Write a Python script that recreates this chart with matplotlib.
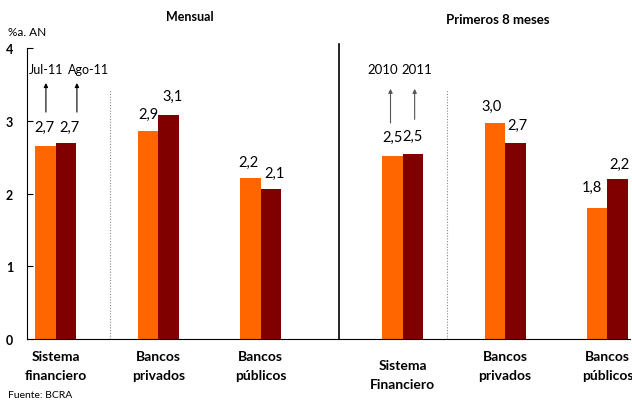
import matplotlib
matplotlib.use("Agg")
import matplotlib.pyplot as plt

categories = ["Sistema\nfinanciero", "Bancos\nprivados", "Bancos\npúblicos",
              "Sistema\nFinanciero", "Bancos\nprivados", "Bancos\npúblicos"]
serie_a = [2.65, 2.86, 2.21, 2.52, 2.97, 1.80]   # Jul-11 / 2010
serie_b = [2.69, 3.08, 2.06, 2.54, 2.69, 2.20]   # Ago-11 / 2011
labels_a = ["2,7", "2,9", "2,2", "2,5", "3,0", "1,8"]
labels_b = ["2,7", "3,1", "2,1", "2,5", "2,7", "2,2"]
yticks = [0, 1, 2, 3, 4]

positions = [0, 1, 2, 3.39, 4.39, 5.39]
w = 0.2
c_a = "#FF6600"
c_b = "#800000"

plt.rcParams['font.family'] = ['Lato', 'DejaVu Sans']
fig = plt.figure(figsize=(6.32, 4.02), dpi=100)
ax = fig.add_axes([0.0427, 0.154, 0.954, 0.724])

ax.bar([p - w/2 for p in positions], serie_a, width=w, color=c_a, zorder=2)
ax.bar([p + w/2 for p in positions], serie_b, width=w, color=c_b, zorder=2)

ax.set_xlim(-0.283, 5.61)
ax.set_ylim(0, 4)
ax.set_yticks(yticks)
ax.set_yticklabels([str(t) for t in yticks], fontweight='bold', fontsize=9)
ax.tick_params(axis='y', direction='in', length=4, pad=10)
ax.set_xticks([])
for s in ['top', 'right']:
    ax.spines[s].set_visible(False)

# category labels
for i, (p, c) in enumerate(zip(positions, categories)):
    dy = -0.28 if i == 3 else -0.15
    ax.text(p, dy, c, ha='center', va='top', fontsize=10, fontweight='bold',
            linespacing=1.65, transform=ax.transData, clip_on=False)

# value label offsets (in data units, relative to bar centre / top, text centre)
off_a = [(-0.01, 0.26), (0.0, 0.23), (-0.02, 0.23), (0.0, 0.26), (-0.03, 0.23), (-0.05, 0.29)]
off_b = [(0.03, 0.22), (0.04, 0.26), (0.04, 0.23), (0.0, 0.25), (0.02, 0.26), (0.02, 0.21)]
for p, v, l, o in zip(positions, serie_a, labels_a, off_a):
    ax.text(p - w/2 + o[0], v + o[1], l, ha='center', va='center', fontsize=10.5)
for p, v, l, o in zip(positions, serie_b, labels_b, off_b):
    ax.text(p + w/2 + o[0], v + o[1], l, ha='center', va='center', fontsize=10.5)

# separators
ax.plot([0.53, 0.53], [0, 3.44], color='#888888', lw=0.8, ls=(0, (1, 1.5)))
ax.plot([3.82, 3.82], [0, 3.44], color='#888888', lw=0.8, ls=(0, (1, 1.5)))
ax.plot([2.764, 2.764], [0, 4.05], color='black', lw=1.2, clip_on=False)

# arrows and legend texts
arrow = dict(arrowstyle='-|>', color='black', lw=0.8, mutation_scale=6, shrinkA=0, shrinkB=0)
ax.annotate("", xy=(-0.098, 3.52), xytext=(-0.098, 3.12), arrowprops=arrow)
ax.annotate("", xy=(0.205, 3.52), xytext=(0.205, 3.12), arrowprops=arrow)
ax.text(-0.098, 3.71, "Jul-11", ha='center', va='center', fontsize=9)
ax.text(0.32, 3.71, "Ago-11", ha='center', va='center', fontsize=9)
arrow2 = dict(arrowstyle='-|>', color='#555555', lw=0.8, mutation_scale=6, shrinkA=0, shrinkB=0)
ax.annotate("", xy=(3.27, 3.44), xytext=(3.27, 2.97), arrowprops=arrow2)
ax.annotate("", xy=(3.506, 3.44), xytext=(3.506, 3.02), arrowprops=arrow2)
ax.text(3.193, 3.71, "2010", ha='center', va='center', fontsize=9.5)
ax.text(3.525, 3.71, "2011", ha='center', va='center', fontsize=9.5)

fig.text(190/632, 1 - 17/402, "Mensual", ha='center', va='center', fontsize=9, fontweight='bold')
fig.text(498/632, 1 - 20/402, "Primeros 8 meses", ha='center', va='center', fontsize=9.5, fontweight='bold')
fig.text(8/632, 1 - 32/402, "%a. AN", ha='left', va='center', fontsize=8.5)
fig.text(8/632, 1 - 396/402, "Fuente: BCRA", ha='left', va='center', fontsize=7.5)

fig.savefig("out.png", dpi=100)
